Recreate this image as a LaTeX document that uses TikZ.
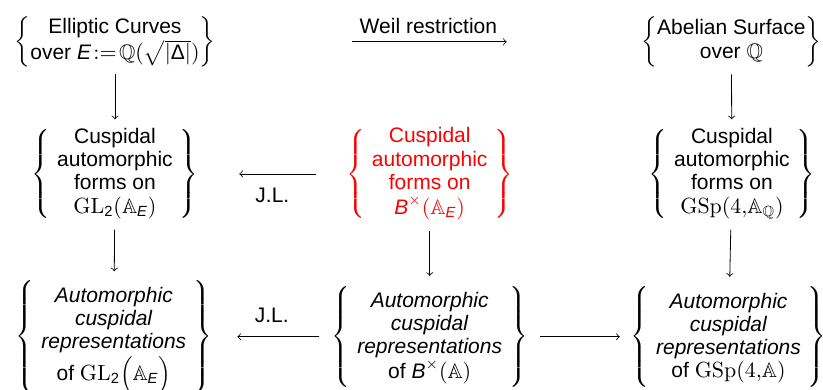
\documentclass[tikz,border=0pt]{standalone}
\usepackage{amsmath,amssymb}
\usepackage[no-math]{fontspec}
\setmainfont{Liberation Sans}
\usetikzlibrary{arrows}
\newcommand{\fldE}{\text{\itshape E}}
\newcommand{\algB}{\text{\itshape B}}
\newcommand{\brset}[1]{$\left\{\begin{tabular}{c}#1\end{tabular}\right\}$}
\newcommand{\brtight}[1]{$\left\{\begin{tabular}{@{}c@{}}#1\end{tabular}\right\}$}
\newcommand{\topstrut}{\rule{0pt}{12pt}}
\newcommand{\botstrut}{\rule[-6pt]{0pt}{6pt}}
\renewcommand{\arraystretch}{0.96}
\setlength{\tabcolsep}{3.5pt}

\begin{document}
\begin{tikzpicture}[font=\fontsize{10.5}{12}\selectfont, every node/.style={inner sep=0pt}, >=to]
\useasboundingbox (0,0) rectangle (14.46,6.836);
% Top row
\node (ec) at (2.02,6.1) {\brtight{Elliptic Curves\\ over $\fldE\!:=\!\mathbb{Q}(\sqrt{|\text{Δ}|})$}};
\node (ab) at (12.85,6.1) {\brtight{Abelian Surface\\ over $\mathbb{Q}$}};
% Middle row
\node (cfl) at (2.02,3.78) {\brset{Cuspidal\\ automorphic\\ forms on\\ $\mathrm{GL}_{\text{2}}(\mathbb{A}_{\fldE})$}};
\node [red] (cfb) at (7.55,3.78) {\brset{Cuspidal\\ automorphic\\ forms on\\ $\algB^{\times}(\mathbb{A}_{\fldE})$}};
\node (cfg) at (12.86,3.78) {\brset{Cuspidal\\ automorphic\\ forms on\\ $\mathrm{GSp}(4{,}\mathbb{A}_{\mathbb{Q}})$}};
% Bottom row
\node (acl) at (2.0,0.92) {\brset{\topstrut\textit{Automorphic}\\ \textit{cuspidal}\\ \textit{representations}\\ of $\mathrm{GL}_{\text{2}}\Big(\mathbb{A}_{\fldE}\Big)$\botstrut}};
\node (acb) at (7.55,0.92) {\brset{\topstrut\textit{Automorphic}\\ \textit{cuspidal}\\ \textit{representations}\\ of $\algB^{\times}(\mathbb{A})$\botstrut}};
\node (acg) at (12.8,0.92) {\brset{\topstrut\textit{Automorphic}\\ \textit{cuspidal}\\ \textit{representations}\\ of $\mathrm{GSp}(4{,}\mathbb{A})$\botstrut}};
% Weil restriction
\draw [->, shorten <=2.4cm, shorten >=2.36cm] (ec) -- (ab) node [midway, above=4pt] {Weil restriction};
% Top --> middle
\draw [->, shorten <=.12cm, shorten >=.14cm] (ec) -- (cfl);
\draw [->, shorten <=.12cm, shorten >=.14cm] (ab) -- (cfg);
% J.L. (forms)
\draw [->, shorten <=.53cm, shorten >=.71cm] (cfb) -- (cfl) node [midway, below=7pt] {J.L.};
% Middle --> bottom
\draw [->, shorten <=.16cm, shorten >=.12cm] (cfl) -- (acl);
\draw [->, shorten <=.16cm, shorten >=.12cm] (cfb) -- (acb);
\draw [->, shorten <=.16cm, shorten >=.12cm] (cfg) -- (acg);
% J.L. (representations)
\draw [->, shorten <=.21cm, shorten >=.44cm] (acb) -- (acl) node [midway, above=7pt] {J.L.};
% B --> GSp(4)
\draw [->, shorten <=.2cm, shorten >=.18cm] (acb) -- (acg);
\end{tikzpicture}
\end{document}
